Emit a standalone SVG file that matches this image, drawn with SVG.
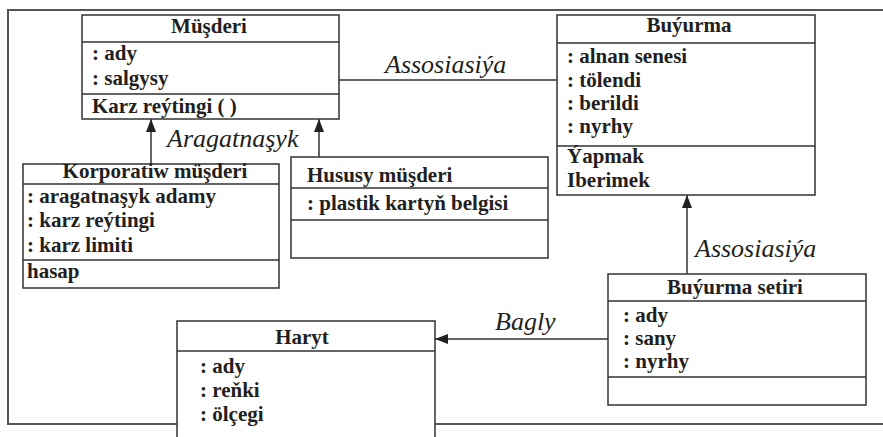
<svg xmlns="http://www.w3.org/2000/svg" width="883" height="437" viewBox="0 0 883 437">
<defs>
<style>
.box{fill:#fff;stroke:#333;stroke-width:1.5}
.sep{stroke:#333;stroke-width:1.5;fill:none}
.t{font-family:"Liberation Serif","Times New Roman",serif;font-weight:bold;font-size:21px;fill:#231f20}
.c{text-anchor:middle}
.lbl{font-family:"Liberation Serif","Times New Roman",serif;font-style:italic;font-size:26px;fill:#231f20}
.ln{stroke:#333;stroke-width:1.5;fill:none}
.frame{stroke:#555;stroke-width:2;fill:none}
</style>
<marker id="ah" markerUnits="userSpaceOnUse" markerWidth="14" markerHeight="10" refX="13" refY="5" orient="auto">
<path d="M0,0 L13,5 L0,10 Z" fill="#222"/>
</marker>
</defs>
<g id="frame">
<path class="frame" d="M883,10 H8 V424 H177 M435,424 H883"/>
</g>
<g id="connectors">
<line class="ln" x1="151" y1="164" x2="151" y2="119" marker-end="url(#ah)"/>
<line class="ln" x1="319" y1="157" x2="319" y2="119" marker-end="url(#ah)"/>
<line class="ln" x1="339" y1="80" x2="557" y2="80"/>
<line class="ln" x1="687" y1="274" x2="687" y2="195" marker-end="url(#ah)"/>
<line class="ln" x1="608" y1="339" x2="435" y2="339" marker-end="url(#ah)"/>
<text class="lbl" x="167" y="147">Aragatnaşyk</text>
<text class="lbl" x="385" y="73">Assosiasiýa</text>
<text class="lbl" x="695" y="257">Assosiasiýa</text>
<text class="lbl" x="495" y="330">Bagly</text>
</g>
<g id="musderi">
<rect class="box" x="82" y="15" width="257" height="104"/>
<path class="sep" d="M82,42 H339 M82,94 H339"/>
<text class="t c" x="209" y="33">Müşderi</text>
<text class="t" x="92" y="60">: ady</text>
<text class="t" x="92" y="85">: salgysy</text>
<text class="t" x="92" y="113">Karz reýtingi ( )</text>
</g>
<g id="buyurma">
<rect class="box" x="557" y="15" width="258" height="180"/>
<path class="sep" d="M557,43 H815 M557,146 H815"/>
<text class="t c" x="689" y="32">Buýurma</text>
<text class="t" x="567" y="63">: alnan senesi</text>
<text class="t" x="567" y="87">: tölendi</text>
<text class="t" x="567" y="110">: berildi</text>
<text class="t" x="567" y="133">: nyrhy</text>
<text class="t" x="567" y="163">Ýapmak</text>
<text class="t" x="567" y="187">Iberimek</text>
</g>
<g id="korporatiw">
<rect class="box" x="23" y="164" width="256" height="124"/>
<path class="sep" d="M23,184 H279 M23,260 H279"/>
<text class="t c" x="155" y="178">Korporatiw müşderi</text>
<text class="t" x="27" y="203">: aragatnaşyk adamy</text>
<text class="t" x="27" y="227">: karz reýtingi</text>
<text class="t" x="27" y="252">: karz limiti</text>
<text class="t" x="27" y="278">hasap</text>
</g>
<g id="hususy">
<rect class="box" x="291" y="157" width="257" height="101"/>
<path class="sep" d="M291,188 H548 M291,220 H548"/>
<text class="t" x="307" y="182">Hususy müşderi</text>
<text class="t" x="307" y="210">: plastik kartyň belgisi</text>
</g>
<g id="buyurma-setiri">
<rect class="box" x="608" y="274" width="258" height="131"/>
<path class="sep" d="M608,301 H866 M608,377 H866"/>
<text class="t c" x="735" y="294">Buýurma setiri</text>
<text class="t" x="623" y="322">: ady</text>
<text class="t" x="623" y="345">: sany</text>
<text class="t" x="623" y="368">: nyrhy</text>
</g>
<g id="haryt">
<path class="box" d="M177,440 V321 H435 V440"/>
<path class="sep" d="M177,351 H435"/>
<text class="t c" x="302" y="344">Haryt</text>
<text class="t" x="200" y="373">: ady</text>
<text class="t" x="200" y="397">: reňki</text>
<text class="t" x="200" y="421">: ölçegi</text>
</g>
</svg>
